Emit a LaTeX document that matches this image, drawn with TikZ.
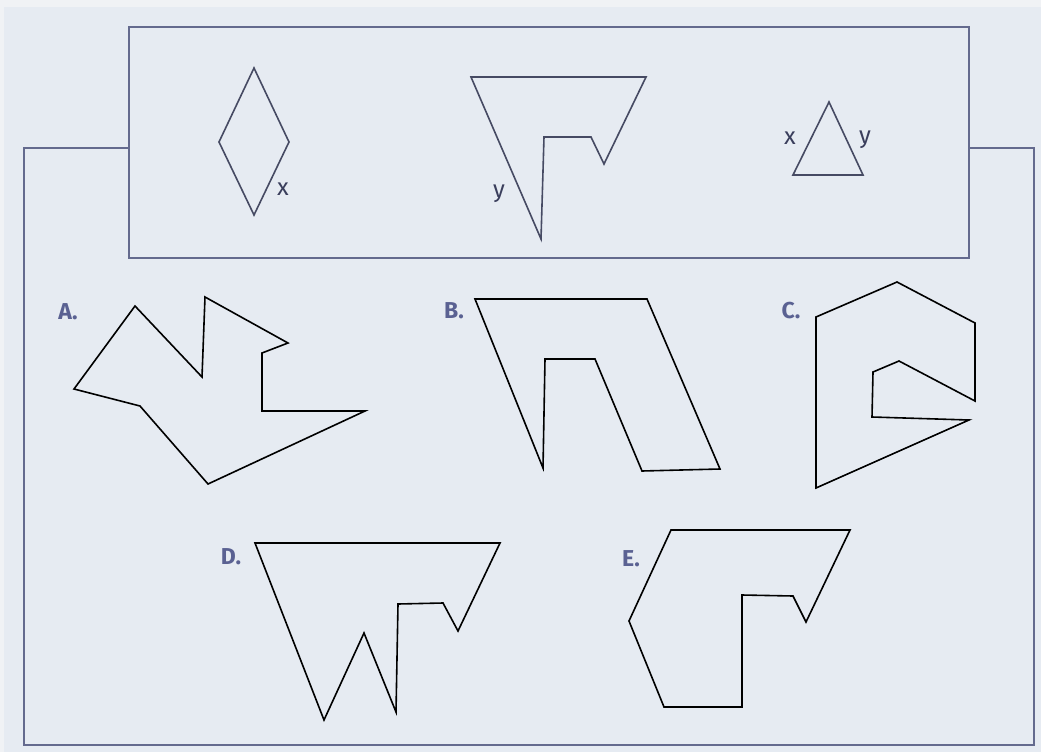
\documentclass[tikz,border=0pt]{standalone}
\usepackage{fontspec}
\setmainfont{Fira Sans}
\definecolor{bg}{HTML}{E6EBF2}
\definecolor{bgtop}{HTML}{F0F2F5}
\definecolor{frame}{HTML}{646A8E}
\definecolor{lab}{HTML}{5A6192}
\definecolor{sm}{HTML}{3A3E5C}
\tikzset{
  framel/.style={draw=frame, line width=2pt},
  shp/.style={draw=black, line width=1.6pt, line join=miter},
  opt/.style={text=lab, font=\fontsize{23}{25}\selectfont\bfseries, inner sep=0pt},
  sml/.style={text=sm, font=\fontsize{24}{26}\selectfont, inner sep=0pt},
  topshp/.style={draw=frame!70!black, line width=1.6pt}
}
\begin{document}
\begin{tikzpicture}[x=1pt,y=-1pt]
\useasboundingbox (0,0) rectangle (1041,752);
\fill[bg] (0,0) rectangle (1041,752);
\fill[bgtop] (0,0) rectangle (1041,7);
\fill[bgtop] (0,0) rectangle (4,752);
% frames
\draw[framel] (129,27) rectangle (969,258);
\draw[framel] (129,148) -- (24,148) -- (24,745) -- (1034,745) -- (1034,148) -- (969,148);
% top shapes
\draw[topshp] (254,68) -- (289,142) -- (254,215) -- (219,142) -- cycle;
\node[sml] (lx1) at (283,189) {x};
\draw[topshp] (471,77) -- (646,77) -- (604,164) -- (591,137) -- (544,137) -- (541,239) -- cycle;
\node[sml] (ly1) at (499,194) {y};
\draw[topshp] (829,102) -- (863,175) -- (793,175) -- cycle;
\node[sml] (lx2) at (790,138) {x};
\node[sml] (ly2) at (865,140) {y};
% A
\draw[shp] (135,306) -- (202,377) -- (205,297) -- (288,343) -- (262,353) -- (262,411) -- (365,411) -- (208,484) -- (140,406) -- (74,389) -- cycle;
\node[opt] (la) at (68,312) {A.};
% B
\draw[shp] (475,299) -- (647,299) -- (720,469) -- (642,471) -- (595,359) -- (545,359) -- (543,468) -- cycle;
\node[opt] (lb) at (454,311) {B.};
% C
\draw[shp] (897,282) -- (975,323) -- (975,401) -- (899,361) -- (873,372) -- (872,417) -- (969,420) -- (816,488) -- (816,317) -- cycle;
\node[opt] (lc) at (791,311) {C.};
% D
\draw[shp] (255,543) -- (500,543) -- (458,631) -- (443,603) -- (398,604) -- (396,712) -- (364,633) -- (324,720) -- cycle;
\node[opt] (ld) at (231,557) {D.};
% E
\draw[shp] (671,530) -- (850,530) -- (806,622) -- (793,596) -- (742,595) -- (742,707) -- (664,707) -- (629,621) -- cycle;
\node[opt] (le) at (631,559) {E.};
\end{tikzpicture}
\end{document}
